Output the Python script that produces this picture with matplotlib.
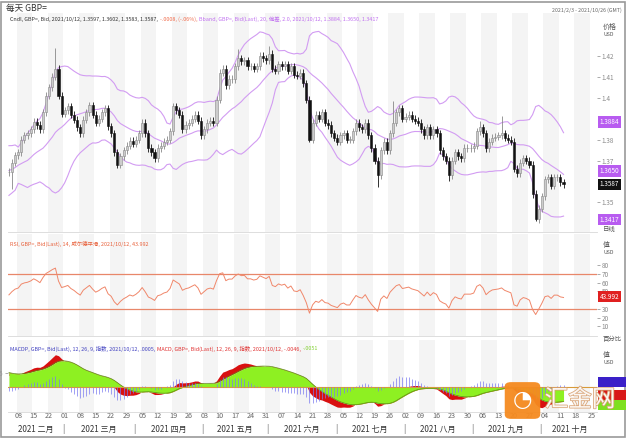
import numpy as np
import pandas as pd
import matplotlib
matplotlib.use('Agg')
import matplotlib.pyplot as plt
from matplotlib.patches import Rectangle, FancyBboxPatch
import matplotlib.patheffects as pe

plt.rcParams['font.family'] = ['Noto Sans CJK SC', 'DejaVu Sans']

# GBP= daily closes, 2021/2/3 - 2021/10/12 (business days)
closes = [
    1.3645, 1.3690, 1.3725,
    1.3740, 1.3800, 1.3820, 1.3830, 1.3850,
    1.3885, 1.3870, 1.3850, 1.3930, 1.4010,
    1.4050, 1.4100, 1.4140, 1.4010, 1.3925,
    1.3940, 1.3960, 1.3920, 1.3895, 1.3860,
    1.3830, 1.3895, 1.3930, 1.3965, 1.3920,
    1.3880, 1.3900, 1.3930, 1.3950, 1.3865,
    1.3830, 1.3740, 1.3680, 1.3720, 1.3750,
    1.3770, 1.3795, 1.3780, 1.3800, 1.3830,
    1.3880, 1.3830, 1.3760, 1.3740, 1.3710,
    1.3760, 1.3770, 1.3790, 1.3800, 1.3840,
    1.3960, 1.3940, 1.3920, 1.3850, 1.3870,
    1.3880, 1.3900, 1.3920, 1.3890, 1.3820,
    1.3850, 1.3880, 1.3890, 1.3880, 1.3990,
    1.4120, 1.4140, 1.4060, 1.4090, 1.4090,
    1.4150, 1.4190, 1.4175, 1.4180, 1.4150,
    1.4150, 1.4140, 1.4150, 1.4200, 1.4190,
    1.4180, 1.4210, 1.4140, 1.4130, 1.4160,
    1.4150, 1.4160, 1.4130, 1.4150, 1.4110,
    1.4105, 1.4120, 1.4070, 1.3990, 1.3800,
    1.3880, 1.3920, 1.3900, 1.3930, 1.3880,
    1.3870, 1.3830, 1.3810, 1.3790, 1.3820,
    1.3830, 1.3800, 1.3800, 1.3840, 1.3880,
    1.3860, 1.3850, 1.3880, 1.3820, 1.3760,
    1.3700, 1.3630, 1.3750, 1.3790, 1.3750,
    1.3830, 1.3880, 1.3930, 1.3950, 1.3900,
    1.3910, 1.3920, 1.3900, 1.3890, 1.3880,
    1.3850, 1.3820, 1.3860, 1.3820, 1.3850,
    1.3830, 1.3750, 1.3720, 1.3700, 1.3630,
    1.3700, 1.3740, 1.3720, 1.3710, 1.3760,
    1.3760, 1.3760, 1.3770, 1.3840, 1.3860,
    1.3830, 1.3760, 1.3790, 1.3810, 1.3815,
    1.3820, 1.3830, 1.3810, 1.3800, 1.3790,
    1.3660, 1.3640, 1.3690, 1.3710, 1.3700,
    1.3680, 1.3540, 1.3420, 1.3470, 1.3530,
    1.3610, 1.3620, 1.3580, 1.3620, 1.3620,
    1.3595, 1.3587,
]
# closes before the chart window, used only to warm up the indicators
warmup = [
    1.3370, 1.3290, 1.3315, 1.3447, 1.3553, 1.3585, 1.3509, 1.3449, 1.3383,
    1.3485, 1.3555, 1.3439, 1.3500, 1.3580, 1.3670, 1.3568, 1.3608, 1.3615,
    1.3566, 1.3566, 1.3512, 1.3642, 1.3664, 1.3686, 1.3585, 1.3595, 1.3639,
    1.3663, 1.3732, 1.3685, 1.3673, 1.3737, 1.3691, 1.3733, 1.3707, 1.3676,
    1.3645,
]
# notable wick extremes (day index -> price)
spike_highs = {15: 1.4237, 74: 1.4235, 84: 1.4249, 124: 1.3983, 152: 1.3891, 159: 1.3913}
spike_lows = {1: 1.3566, 97: 1.3787, 119: 1.3572, 142: 1.3602, 170: 1.3412}

band_labels = ['1.3884', '1.3650', '1.3417']
last_label = '1.3587'
rsi_label = '43.992'

dates = pd.bdate_range('2021-02-03', periods=len(closes) + 12)
n = len(closes)

# ---- indicators
allc = pd.Series(warmup + closes)
mid = allc.rolling(20).mean()
sd = allc.rolling(20).std(ddof=0)
upper = (mid + 2 * sd).values[-n:]
lower = (mid - 2 * sd).values[-n:]
mid = mid.values[-n:]

d = allc.diff()
gain = d.clip(lower=0).ewm(alpha=1 / 14, adjust=False).mean()
loss = (-d.clip(upper=0)).ewm(alpha=1 / 14, adjust=False).mean()
rsi = (100 - 100 / (1 + gain / loss)).values[-n:]

macd = allc.ewm(span=12, adjust=False).mean() - allc.ewm(span=26, adjust=False).mean()
signal = macd.ewm(span=9, adjust=False).mean()
hist = (macd - signal).values[-n:]
macd = macd.values[-n:]
signal = signal.values[-n:]

c = np.array(closes)
o = np.array([warmup[-1]] + closes[:-1])
hi = np.maximum(o, c) + 0.0017
lo = np.minimum(o, c) - 0.0017
for k, v in spike_highs.items():
    hi[k] = v
for k, v in spike_lows.items():
    lo[k] = v
x = np.arange(n)

# ---- layout in pixels
W, H = 626, 438
def box(l, t, r, b):
    return [l / W, 1 - b / H, (r - l) / W, (b - t) / H]
def fx(px):
    return px / W
def fy(py):
    return 1 - py / H

fig = plt.figure(figsize=(W / 100, H / 100), dpi=100)
fig.patch.set_facecolor('white')
fig.add_artist(Rectangle((0.002, 0.002), 0.996, 0.994, transform=fig.transFigure,
                         fill=False, ec='#9a9a9a', lw=1.2))

ax1 = fig.add_axes(box(8, 13, 597, 232))
ax2 = fig.add_axes(box(8, 234, 597, 336))
ax3 = fig.add_axes(box(8, 340, 597, 412))
xmax = 189.8
gray = '#8a8a8a'

for ax in (ax1, ax2, ax3):
    ax.set_xlim(-0.3, xmax)
    for s in ax.spines.values():
        s.set_visible(False)
    ax.spines['bottom'].set_visible(True)
    ax.spines['bottom'].set_color('#d8d8d8')
    ax.spines['bottom'].set_linewidth(0.6)
    ax.yaxis.tick_right()
    ax.tick_params(axis='y', labelsize=4.6, colors=gray, length=2, width=0.5, pad=1.5)
    ax.tick_params(axis='x', bottom=False, labelbottom=False)
    # alternating weekly stripes
    for i, dt in enumerate(dates):
        if dt.weekday() == 0 and ((dt - dates[3]).days // 7) % 2 == 0:
            ax.axvspan(i - 0.5, i + 4.5, color='#f4f4f4', lw=0, zorder=0)

# ---- main price panel
ax1.set_ylim(1.3358, 1.4406)
ax1.set_yticks([1.35, 1.37, 1.38, 1.40, 1.41, 1.42])
ax1.set_yticklabels(['1.35', '1.37', '1.38', '1.4', '1.41', '1.42'])
bcol = '#d29cf2'
ax1.plot(x, upper, color=bcol, lw=0.8, zorder=2)
ax1.plot(x, mid, color=bcol, lw=0.8, zorder=2)
ax1.plot(x, lower, color=bcol, lw=0.8, zorder=2)
for i in range(n):
    up = c[i] >= o[i]
    ec = '#888888' if up else '#111111'
    fc = '#cccccc' if up else '#111111'
    ax1.vlines(i, lo[i], hi[i], color=ec, lw=0.6, zorder=3)
    bot = min(o[i], c[i])
    h = max(abs(c[i] - o[i]), 0.0002)
    ax1.add_patch(Rectangle((i - 0.34, bot), 0.68, h, fc=fc, ec=ec, lw=0.4, zorder=4))

def rlabel(ax, yval, text, fc, tc='white'):
    ax.annotate(text, xy=(1.0, yval), xycoords=('axes fraction', 'data'),
                xytext=(2, 0), textcoords='offset points', ha='left', va='center',
                fontsize=4.6, color=tc, annotation_clip=False, zorder=10,
                bbox=dict(boxstyle='square,pad=0.25', fc=fc, ec='none'))

for lab in band_labels:
    rlabel(ax1, float(lab), lab, '#b85cf0')
rlabel(ax1, float(last_label), last_label, '#111111')

# ---- RSI panel
ax2.set_ylim(-0.9, 115.7)
ax2.set_yticks([10, 20, 30, 50, 60, 70, 80])
rcol = '#f0876a'
ax2.axhline(70, color='#e8876a', lw=0.9, zorder=2)
ax2.axhline(30, color='#e8876a', lw=0.9, zorder=2)
ax2.plot(x, rsi, color=rcol, lw=0.7, zorder=3)
rlabel(ax2, float(rsi_label), rsi_label, '#e02020')

# ---- MACD panel
ax3.set_ylim(-0.0089, 0.0168)
ax3.set_yticks([0.005])
ax3.set_yticklabels(['.005'])
ax3.fill_between(x, macd, signal, color='#d81010', lw=0, zorder=2)
ax3.fill_between(x, 0, signal, color='#8ef022', lw=0, zorder=3)
ax3.plot(x, signal, color='#5f8a18', lw=0.5, zorder=4)
ax3.axhline(0, color='#d89a3a', lw=0.8, zorder=4)
axh = ax3.twinx()
axh.set_ylim(-0.0089 / 1.4, 0.0168 / 1.4)
axh.set_xlim(-0.3, xmax)
axh.axis('off')
axh.vlines(x, 0, hist, color='#7a7af0', lw=0.5, zorder=5)
for yy, col in [(382, '#3a20c8'), (395, '#d81818'), (405, '#7ee020')]:
    fig.add_artist(Rectangle((fx(598), fy(yy + 5)), fx(28), 10 / H, transform=fig.transFigure,
                             fc=col, ec='none'))

# ---- legends
renderer = fig.canvas.get_renderer()
def seq_text(px, py, parts, fs=3.9):
    cur = px
    for s, col in parts:
        t = fig.text(fx(cur), fy(py), s, fontsize=fs, color=col, va='center')
        cur += t.get_window_extent(renderer=renderer).width + 2

fig.text(fx(6), fy(8), '每天 GBP=', fontsize=6.2, color='#333333', va='center')
fig.text(fx(622), fy(10), '2021/2/3 - 2021/10/26 (GMT)', fontsize=3.8, color='#666666',
         ha='right', va='center')
seq_text(10, 19, [('Cndl, GBP=, Bid, 2021/10/12, 1.3597, 1.3602, 1.3583, 1.3587,', '#333333'),
                  ('-.0008, (-.06%),', '#f06a4a'),
                  ('Bband, GBP=, Bid(Last), 20, 偏差, 2.0, 2021/10/12, 1.3884, 1.3650, 1.3417',
                   '#c070f0')])
seq_text(10, 244, [('RSI, GBP=, Bid(Last), 14, 威尔德平滑, 2021/10/12, 43.992', '#e8603a')])
seq_text(10, 349, [('MACDP, GBP=, Bid(Last), 12, 26, 9, 指数, 2021/10/12, .0005,', '#4040c0'),
                   ('MACD, GBP=, Bid(Last), 12, 26, 9, 指数, 2021/10/12, -.0046,', '#e03030'),
                   ('-.0051', '#80d030')])

# right column captions
for py, t, s in [(27, '价格', 5), (35, 'USD', 3.8), (229, '日线', 4.6), (245, '值', 5),
                 (252, 'USD', 3.8), (339, '百分比', 4.6), (355, '值', 5), (362, 'USD', 3.8)]:
    fig.text(fx(603), fy(py), t, fontsize=s, color='#555555', va='center')

# ---- date axis
def px_of(i):
    return 8 + (i + 0.3) / (xmax + 0.3) * 589
for i, dt in enumerate(dates):
    if dt.weekday() == 0:
        fig.text(fx(px_of(i)), fy(416), dt.strftime('%d'), fontsize=5.2, color='#666666',
                 ha='center', va='center')
months = ['一月', '二月', '三月', '四月', '五月', '六月', '七月', '八月', '九月', '十月', '十一月', '十二月']
mon = np.array([dt.month for dt in dates])
for m in np.unique(mon):
    idx = np.where(mon == m)[0]
    ctr = (idx[0] + min(idx[-1], xmax)) / 2
    fig.text(fx(px_of(ctr)), fy(429), '2021 ' + months[m - 1], fontsize=5.8, color='#333333',
             ha='center', va='center')
    if idx[0] > 0:
        fig.text(fx(px_of(idx[0] - 0.5)), fy(429), '|', fontsize=5.8, color='#555555',
                 ha='center', va='center')

# ---- watermark
fig.add_artist(FancyBboxPatch((fx(506), fy(418)), fx(33), 35 / H, transform=fig.transFigure,
                              boxstyle='round,pad=0.002,rounding_size=0.01', fc='#f58a1f',
                              ec='none', alpha=0.95, zorder=20))
fig.text(fx(522), fy(400), '◔', fontsize=16, color='white', ha='center', va='center', zorder=21,
         family=['DejaVu Sans'])
fig.text(fx(580), fy(400), '汇金网', fontsize=17, color='white', ha='center', va='center',
         zorder=21, alpha=0.9,
         path_effects=[pe.withStroke(linewidth=1.2, foreground='#d8a070')])

fig.savefig('out.png', dpi=100)
